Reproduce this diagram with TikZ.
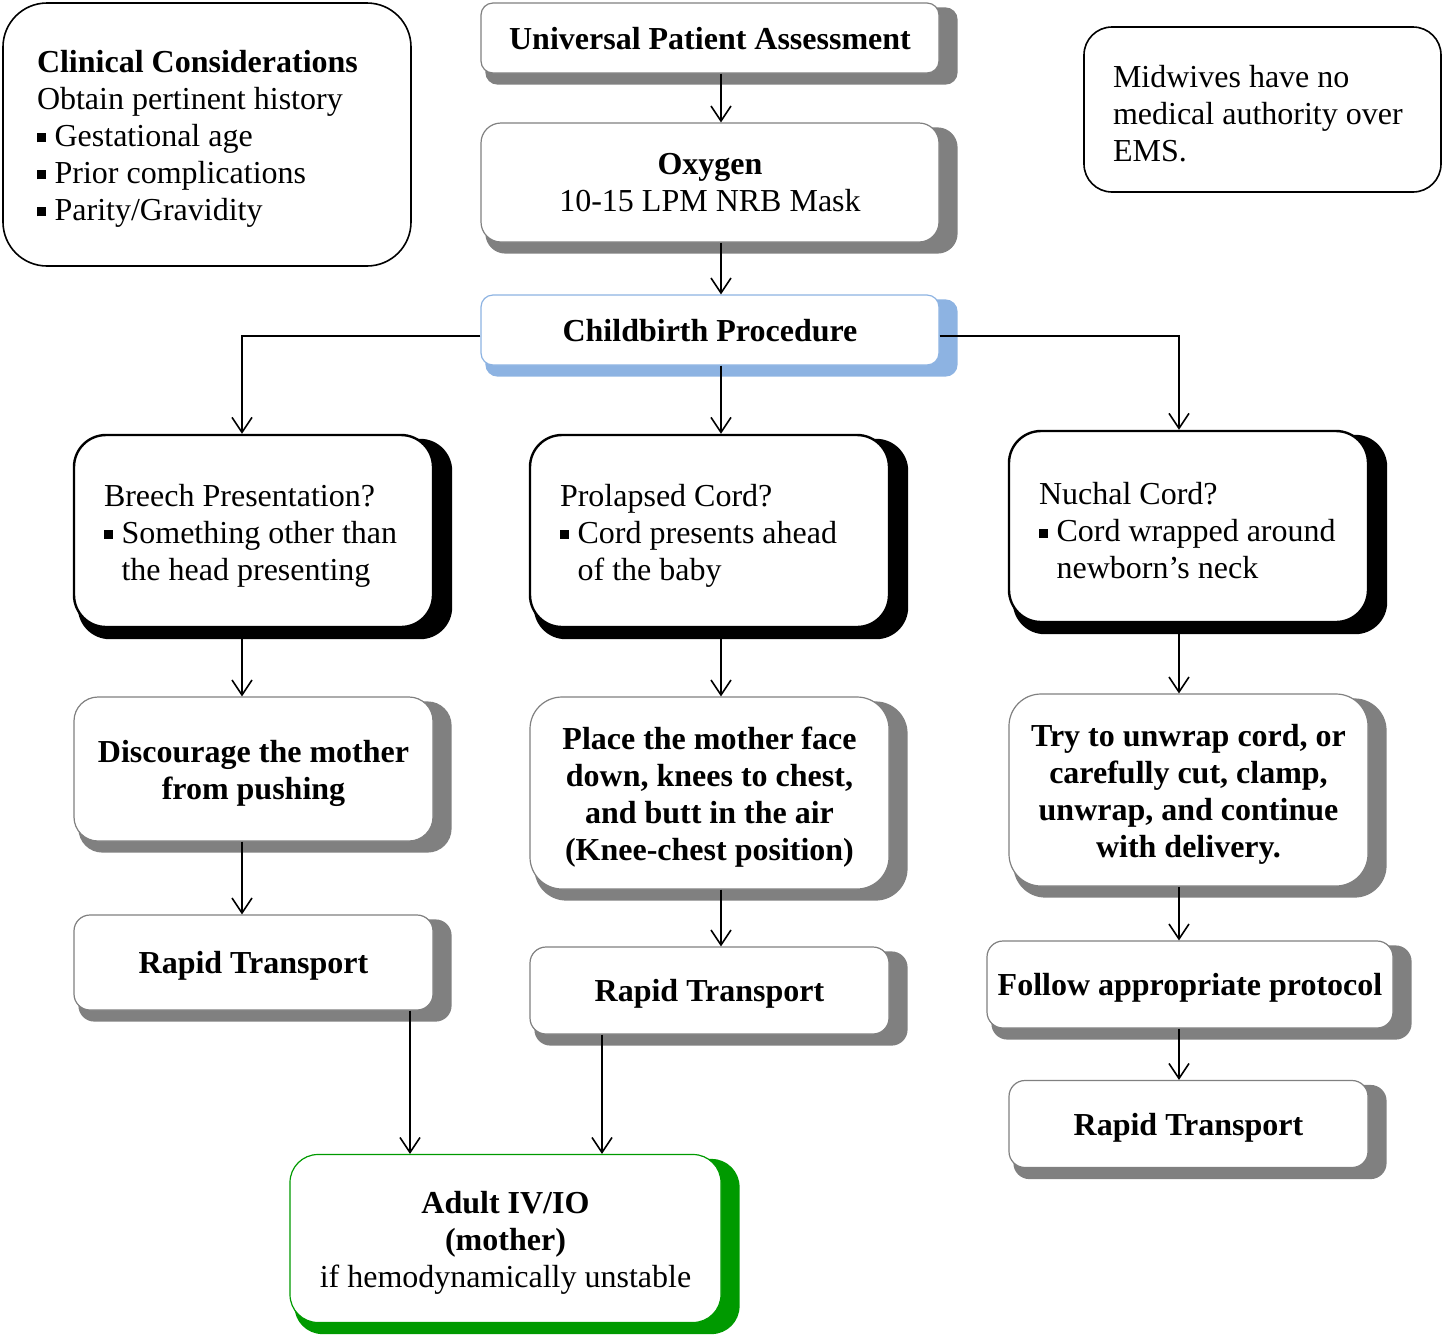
\documentclass[tikz,border=0pt]{standalone}
\usepackage{fontspec}
\setmainfont{Liberation Serif}
\usepackage{tikz}
\usetikzlibrary{arrows.meta,backgrounds}

\definecolor{shgray}{HTML}{808080}
\definecolor{shblue}{HTML}{8DB3E2}
\definecolor{shgreen}{HTML}{009A00}

\newcommand{\sqb}{\makebox[0.55em][l]{\rule[0.28ex]{0.28em}{0.28em}}}
\newcommand{\sqi}{\hspace*{0.55em}}

\tikzset{
  box/.style={rounded corners=#1, fill=white, inner sep=0pt, align=flush center,
              font=\fontsize{16}{18.5}\selectfont},
  graybox/.style={box=#1, draw=shgray, line width=0.6pt, font=\fontsize{16}{18.5}\selectfont\bfseries},
  oneline/.style={text depth=0pt},
  lower/.style={execute at begin node={\rule{0pt}{15.5pt}}},
  askbox/.style={box=#1, lower, draw=black, line width=1.2pt, align=flush left, text width=149.5pt},
  notebox/.style={box=#1, lower, draw=black, line width=0.8pt, align=flush left},
  arr/.style={line width=0.8pt, -{Straight Barb[length=7.5pt,width=10pt,line width=0.8pt]}}
}

\begin{document}
\begin{tikzpicture}[x=0.5pt,y=-0.5pt]
      \useasboundingbox (0,0) rectangle (1442,1335);
      %%%%%%%%%%%%%%%%%%%%%%%%%%%%%%%%%%%%%%%%%%%%%%%
      \node[notebox=22pt, minimum width=204pt, minimum height=131.5pt, text width=170pt] at (207,134.5) (clin)
            {\textbf{Clinical Considerations}\\Obtain pertinent history\\\sqb Gestational age\\\sqb Prior complications\\\sqb Parity/Gravidity};
      \node[notebox=14pt, minimum width=178.5pt, minimum height=82.5pt, text width=149.5pt] at (1262.5,109.5) (mid)
            {Midwives have no\\medical authority over\\EMS.};
      %%%%%%%%%%%%%%%%%%%%%%%%%%%%%%%%%%%%%%%%%%%%%%%
      \node[graybox=6pt, oneline, minimum width=229pt, minimum height=35pt] at (710,38) (upa) {Universal Patient Assessment};
      \node[graybox=10pt, minimum width=229pt, minimum height=59.5pt] at (710,182.5) (oxy) {Oxygen\\\mdseries 10-15 LPM NRB Mask};
      \node[graybox=6pt, oneline, draw=shblue, minimum width=229pt, minimum height=35pt] at (710,330) (cbp) {Childbirth Procedure};
      %%%%%%%%%%%%%%%%%%%%%%%%%%%%%%%%%%%%%%%%%%%%%%%
      \node[askbox=16pt, minimum width=179.5pt, minimum height=96pt] at (253.5,531) (breech)
            {Breech Presentation?\\\sqb Something~other~than\\\sqi the head presenting};
      \node[askbox=16pt, minimum width=179.5pt, minimum height=96pt] at (709.5,531) (prol)
            {Prolapsed Cord?\\\sqb Cord~presents~ahead\\\sqi of the baby};
      \node[askbox=16pt, minimum width=179.5pt, minimum height=95.5pt] at (1188.5,526.5) (nuch)
            {Nuchal Cord?\\\sqb Cord~wrapped~around\\\sqi newborn's neck};
      %%%%%%%%%%%%%%%%%%%%%%%%%%%%%%%%%%%%%%%%%%%%%%%
      \node[graybox=12pt, lower, text width=179.5pt, minimum height=72pt] at (253.5,769) (disc) {Discourage the mother\\from pushing};
      \node[graybox=16pt, lower, text width=179.5pt, minimum height=96pt] at (709.5,793) (place)
            {Place the mother face\\down, knees to chest,\\and butt in the air\\(Knee-chest position)};
      \node[graybox=16pt, lower, text width=179.5pt, minimum height=96pt] at (1188.5,790) (try)
            {Try to unwrap cord, or\\carefully cut, clamp,\\unwrap, and continue\\with delivery.};
      %%%%%%%%%%%%%%%%%%%%%%%%%%%%%%%%%%%%%%%%%%%%%%%
      \node[graybox=8pt, oneline, minimum width=179.5pt, minimum height=47.5pt] at (253.5,962.5) (rt1) {Rapid Transport};
      \node[graybox=8pt, oneline, minimum width=179.5pt, minimum height=43.5pt] at (709.5,990.5) (rt2) {Rapid Transport};
      \node[graybox=8pt, oneline, minimum width=203pt, minimum height=43.5pt] at (1190,984.5) (follow) {Follow appropriate protocol};
      \node[graybox=8pt, oneline, minimum width=179.5pt, minimum height=43.5pt] at (1188.5,1124) (rt3) {Rapid Transport};
      \node[graybox=14pt, lower, draw=shgreen, text width=215.5pt, minimum height=84pt] at (505.5,1238.5) (adult)
            {Adult IV/IO\\(mother)\\\mdseries if hemodynamically unstable};
      %%%%%%%%%%%%%%%%%%%%%%%%%%%%%%%%%%%%%%%%%%%%%%%
      \begin{scope}[on background layer]
        \foreach \n/\c/\r in {upa/shgray/6pt, oxy/shgray/10pt, cbp/shblue/6pt,
                              breech/black/16pt, prol/black/16pt, nuch/black/16pt,
                              disc/shgray/12pt, place/shgray/16pt, try/shgray/16pt,
                              rt1/shgray/8pt, rt2/shgray/8pt, follow/shgray/8pt, rt3/shgray/8pt,
                              adult/shgreen/14pt}
          \fill[\c, rounded corners=\r] ([xshift=2.5pt,yshift=-2.5pt]\n.north west) rectangle ([xshift=9pt,yshift=-5.5pt]\n.south east);
      \end{scope}
      %%%%%%%%%%%%%%%%%%%%%%%%%%%%%%%%%%%%%%%%%%%%%%%
      \draw[arr] ([xshift=5.5pt]upa.south) -- ([xshift=5.5pt]oxy.north);
      \draw[arr] ([xshift=5.5pt]oxy.south) -- ([xshift=5.5pt]cbp.north);
      \draw[arr] ([xshift=5.5pt]cbp.south) -- ([xshift=5.75pt]prol.north);
      \draw[arr] ([yshift=-3pt]cbp.west) -| ([xshift=-5.75pt]breech.north);
      \draw[arr] ([yshift=-3pt]cbp.east) -| ([xshift=-4.75pt]nuch.north);
      %%%%%%%%%%%%%%%%%%%%%%%%%%%%%%%%%%%%%%%%%%%%%%%
      \draw[arr] ([xshift=-5.75pt]breech.south) -- ([xshift=-5.75pt]disc.north);
      \draw[arr] ([xshift=-5.75pt]disc.south) -- ([xshift=-5.75pt]rt1.north);
      \draw[arr] ([xshift=5.75pt]prol.south) -- ([xshift=5.75pt]place.north);
      \draw[arr] ([xshift=5.75pt]place.south) -- ([xshift=5.75pt]rt2.north);
      \draw[arr] ([xshift=-4.75pt]nuch.south) -- ([xshift=-4.75pt]try.north);
      \draw[arr] ([xshift=-4.75pt]try.south) -- ([xshift=-5.5pt]follow.north);
      \draw[arr] ([xshift=-5.5pt]follow.south) -- ([xshift=-4.75pt]rt3.north);
      %%%%%%%%%%%%%%%%%%%%%%%%%%%%%%%%%%%%%%%%%%%%%%%
      \draw[arr] ([xshift=78.25pt]rt1.south) -- ([xshift=-47.75pt]adult.north);
      \draw[arr] ([xshift=-53.75pt]rt2.south) -- ([xshift=48.25pt]adult.north);
    \end{tikzpicture}
\end{document}
